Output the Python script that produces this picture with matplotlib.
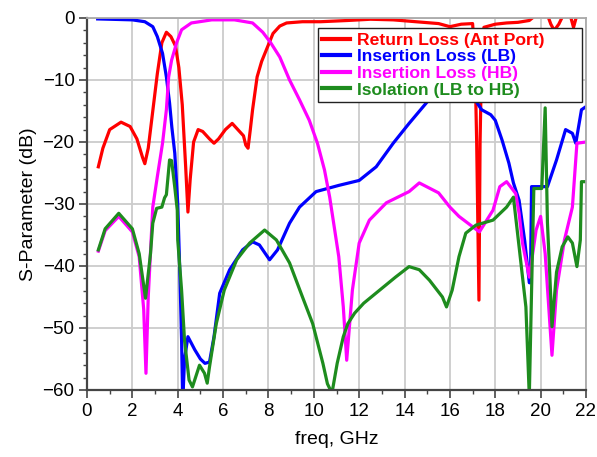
import matplotlib
matplotlib.use("Agg")
import matplotlib.pyplot as plt
from matplotlib.ticker import MultipleLocator

plt.rcParams['font.family'] = ['Liberation Sans', 'DejaVu Sans']

# ---- data (freq GHz, dB) ----
rl_f = [0.5, 0.7, 1.0, 1.5, 1.9, 2.2, 2.45, 2.55, 2.7, 2.9, 3.1, 3.3, 3.5, 3.7, 3.9, 4.05,
        4.2, 4.35, 4.45, 4.55, 4.7, 4.9, 5.1, 5.4, 5.6, 5.8, 6.1, 6.4, 6.6, 6.9, 7.0, 7.1,
        7.2, 7.3, 7.5, 7.7, 7.9, 8.2, 8.5, 8.8, 9.5, 10.3, 11.5, 12.5, 13.5, 14.5, 15.5,
        16.0, 16.5, 17.0, 17.1, 17.18, 17.28, 17.33, 17.4, 17.5, 18.0, 18.5, 19.0, 19.5,
        19.8, 20.3, 20.45, 20.6, 20.8, 21.0, 21.3, 21.45, 21.6, 22.0]
rl_db = [-24, -21, -18, -16.8, -17.5, -19.5, -22.5, -23.5, -21, -15, -9, -4, -2.3, -3, -4.5, -8,
         -14, -24, -31.3, -26, -20, -18, -18.3, -19.5, -20.2, -19.5, -18, -17, -17.8, -19, -20.5, -21,
         -18, -14.8, -9.5, -7, -5.2, -2.5, -1.3, -0.8, -0.6, -0.6, -0.4, -0.2, -0.3, -0.6, -0.9,
         -1.4, -1.0, -0.9, -6, -20, -45.5, -20, -6, -1.5, -1.0, -0.8, -0.7, -0.4,
         0.5, 0.5, -1.0, -2.0, -1.0, 0.5, 0.5, -1.5, 0.5, 0.5]

lb_f = [0.47, 1.0, 2.0, 2.55, 2.9, 3.1, 3.33, 3.5, 3.64, 3.74, 3.87, 4.0, 4.1, 4.17, 4.22,
        4.3, 4.45, 4.75, 5.0, 5.2, 5.4, 5.6, 5.85, 6.29, 6.86, 7.3, 7.6, 8.05, 8.4, 8.93,
        9.37, 10.1, 11.1, 12.0, 12.75, 13.5, 14.2, 14.96, 16.0, 17.0, 17.2, 17.4, 17.8,
        18.0, 18.3, 18.6, 18.8, 19.05, 19.3, 19.5, 19.55, 19.6, 20.3, 20.7, 21.1, 21.4,
        21.55, 21.8, 22.0]
lb_db = [-0.15, -0.2, -0.3, -0.6, -1.4, -3, -5.7, -9.5, -13.7, -17.6, -21.8, -29.9, -42, -52, -62,
         -55, -51.4, -53.5, -55, -55.7, -55.5, -51.4, -44.4, -40.6, -37.4, -36.1, -36.6, -39, -37.4, -33.1,
         -30.5, -28, -27, -26.2, -24, -20.2, -17, -13.7, -9, -11, -13.7, -14.8, -15.6,
         -16.5, -19.7, -23.4, -26.6, -29.4, -36, -42.7, -42.7, -27.2, -27.2, -22.9, -18, -18.6,
         -20.2, -14.8, -14.3]

hb_f = [0.5, 0.8, 1.4, 2.0, 2.3, 2.5, 2.6, 2.7, 2.9, 3.1, 3.33, 3.5, 3.6, 3.73, 3.96, 4.17,
        4.6, 5.5, 6.5, 7.3, 7.75, 8.1, 8.5, 8.93, 9.37, 9.8, 10.16, 10.47, 10.7, 11.1,
        11.3, 11.45, 11.7, 12.0, 12.45, 13.2, 14.2, 14.65, 15.5, 16.0, 16.4, 17.3, 17.9,
        18.2, 18.5, 18.9, 19.05, 19.2, 19.5, 19.8, 20.0, 20.2, 20.5, 20.7, 21.05, 21.4,
        21.6, 22.0]
hb_db = [-37.6, -34.3, -32, -34.5, -38.5, -47, -57.3, -45, -30.5, -25.6, -20.2, -14.8, -9.5, -6.8, -3.9, -1.9,
         -0.8, -0.3, -0.3, -0.8, -2.3, -4, -6.3, -10, -13.2, -16.5, -20.2, -24.5, -28.9, -38.5,
         -46.6, -55.2, -43.9, -36.3, -32.6, -29.8, -28, -26.6, -28.2, -30.5, -32, -34.5, -31,
         -27.2, -26.4, -28.3, -31.5, -36.3, -41.8, -34.2, -32, -38, -54.4, -43.9, -35.8, -30.5,
         -20.2, -20.0]

iso_f = [0.5, 0.8, 1.4, 2.0, 2.3, 2.58, 2.8, 2.9, 3.07, 3.3, 3.42, 3.5, 3.64, 3.73, 3.87, 3.98,
         4.0, 4.17, 4.3, 4.5, 4.65, 4.96, 5.18, 5.3, 5.4, 5.7, 6.05, 6.6, 7.17, 7.83, 8.35,
         8.93, 9.5, 9.95, 10.4, 10.6, 10.8, 11.03, 11.3, 11.5, 11.8, 12.2, 12.9, 13.6, 14.2,
         14.65, 15.1, 15.67, 15.85, 16.1, 16.4, 16.7, 17.15, 17.9, 18.5, 18.8, 19.05, 19.35,
         19.5, 19.6, 19.7, 20.05, 20.2, 20.3, 20.4, 20.5, 20.7, 20.95, 21.2, 21.4, 21.6,
         21.75, 21.8, 22.0]
iso_db = [-37.4, -34, -31.5, -34, -38, -45.2, -38, -33.1, -30.7, -30.5, -29, -28.5, -22.9, -23, -27.3, -31,
          -35.8, -43.9, -52, -58.4, -59.5, -56, -57.3, -58.9, -56.3, -49.3, -43.9, -39, -36.3, -34.2, -35.8,
          -39.5, -45, -49.3, -55.7, -59, -60.5, -55.7, -51.4, -49.3, -47.6, -46, -43.9, -41.8, -40.1,
          -40.6, -42.3, -45, -46.6, -43.9, -38.5, -34.7, -33.4, -32.6, -30.5, -28.9, -36.9, -46.6,
          -61, -44, -27.5, -27.5, -14.5, -33, -41.1, -49.8, -41, -36.9, -35.3, -36.3, -40.1,
          -35.8, -26.4, -26.4]

labels = ['Return Loss (Ant Port)', 'Insertion Loss (LB)', 'Insertion Loss (HB)', 'Isolation (LB to HB)']
colors = ['#ff0000', '#0000ff', '#ff00ff', '#1e8c1e']

fig = plt.figure(figsize=(5.97, 4.57), dpi=100)
ax = fig.add_axes([87/597, 1-390/457, (586-87)/597, (390-18)/457])

series = [(rl_f, rl_db), (lb_f, lb_db), (hb_f, hb_db), (iso_f, iso_db)]
for (fx, dy), c, lab in zip(series, colors, labels):
    ax.plot(fx, dy, color=c, lw=2.3, label=lab, solid_joinstyle='round')

ax.set_xlim(0, 22)
ax.set_ylim(-60, 0)
ax.xaxis.set_major_locator(MultipleLocator(2))
ax.xaxis.set_minor_locator(MultipleLocator(1))
ax.yaxis.set_major_locator(MultipleLocator(10))
ax.yaxis.set_minor_locator(MultipleLocator(2))
ax.grid(True, which='major', color='#cccccc', lw=1.3)
ax.set_axisbelow(True)
ax.tick_params(which='major', length=6, width=1.2, color='#444444', labelsize=13.5, pad=3)
ax.tick_params(which='minor', length=3, width=1.0, color='#444444')
for s in ['left', 'bottom']:
    ax.spines[s].set_color('#444444')
    ax.spines[s].set_linewidth(1.6)
for s in ['top', 'right']:
    ax.spines[s].set_color('#aaaaaa')
    ax.spines[s].set_linewidth(1.3)

ax.set_xlabel('freq, GHz', fontsize=14, labelpad=8)
ax.set_ylabel('S-Parameter (dB)', fontsize=14, labelpad=4)

x0 = (318-87)/499
x1 = (582-87)/499
ytop = (390-28)/372
ybot = (390-103)/372
leg = ax.legend(loc='upper left', bbox_to_anchor=(x0, ybot, x1-x0, ytop-ybot), mode='expand',
                borderaxespad=0, fancybox=False, edgecolor='#222222', framealpha=1,
                labelcolor='linecolor', prop={'weight': 'bold', 'size': 12.6},
                handlelength=1.55, handletextpad=0.45, labelspacing=0.08, borderpad=0.25)
leg.get_frame().set_linewidth(1.0)
for l in leg.get_lines():
    l.set_linewidth(3)

fig.savefig('out.png', dpi=100)
